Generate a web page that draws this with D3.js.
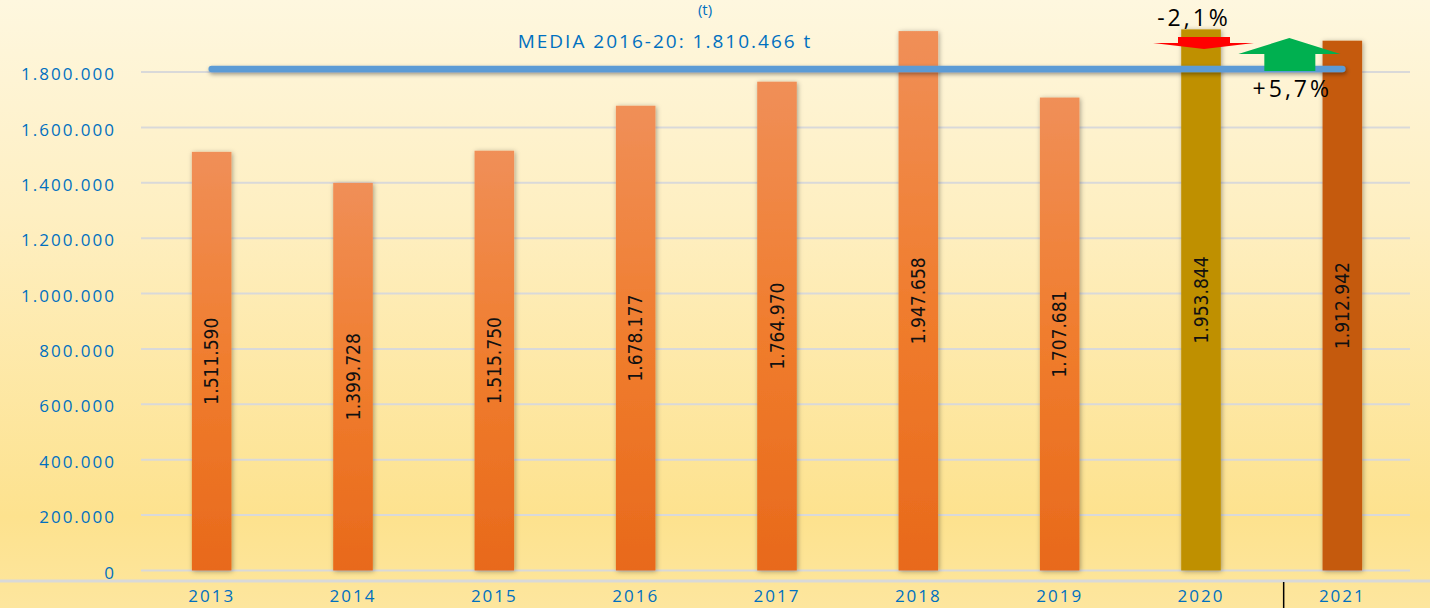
<!DOCTYPE html>
<html>
<head>
<meta charset="utf-8">
<script src="https://cdn.jsdelivr.net/npm/d3@7"></script>
<style>
  html, body { margin: 0; padding: 0; overflow: hidden; }
  svg { display: block; }
</style>
</head>
<body>
<div id="chart"></div>
<script>
const years = ["2013", "2014", "2015", "2016", "2017", "2018", "2019", "2020", "2021"];
const tonnes = [1511590, 1399728, 1515750, 1678177, 1764970, 1947658, 1707681, 1953844, 1912942];
const yTicks = [0, 200000, 400000, 600000, 800000, 1000000, 1200000, 1400000, 1600000, 1800000];
const average = 1810466;
const averageLabel = "MEDIA 2016-20: 1.810.466 t";
const changeLabels = ["-2,1%", "+5,7%"];

const width = 1430, height = 608;
const locale = d3.formatLocale({ decimal: ",", thousands: ".", grouping: [3], currency: ["", ""] });
const fmt = locale.format(",d");

const svg = d3.select("#chart").append("svg")
  .attr("width", width)
  .attr("height", height);

const defs = svg.append("defs");

// background gradient
const bg = defs.append("linearGradient").attr("id", "bg").attr("x1", 0).attr("y1", 0).attr("x2", 0).attr("y2", 1);
bg.append("stop").attr("offset", "0%").attr("stop-color", "#fef7df");
bg.append("stop").attr("offset", "35%").attr("stop-color", "#feefc2");
bg.append("stop").attr("offset", "85%").attr("stop-color", "#fde28e");
bg.append("stop").attr("offset", "100%").attr("stop-color", "#fde69e");

// bar gradient
const barGrad = defs.append("linearGradient").attr("id", "barGrad").attr("x1", 0).attr("y1", 0).attr("x2", 0).attr("y2", 1);
barGrad.append("stop").attr("offset", "0%").attr("stop-color", "#f08f58");
barGrad.append("stop").attr("offset", "50%").attr("stop-color", "#f07d2e");
barGrad.append("stop").attr("offset", "100%").attr("stop-color", "#e8691b");

// soft shadow for bars
const shadow = defs.append("filter").attr("id", "shadow").attr("x", "-30%").attr("y", "-10%").attr("width", "160%").attr("height", "130%");
shadow.append("feDropShadow").attr("dx", 1).attr("dy", 1).attr("stdDeviation", 2.5)
  .attr("flood-color", "#000").attr("flood-opacity", 0.35);

// shadow for the flat average line (needs user space region)
const lineShadow = defs.append("filter").attr("id", "lineShadow").attr("filterUnits", "userSpaceOnUse")
  .attr("x", 0).attr("y", 0).attr("width", width).attr("height", height);
lineShadow.append("feDropShadow").attr("dx", 1).attr("dy", 2).attr("stdDeviation", 2)
  .attr("flood-color", "#000").attr("flood-opacity", 0.4);

svg.append("rect").attr("width", width).attr("height", height).attr("fill", "url(#bg)");

// scales
const x = d3.scaleBand().domain(years).range([141, 1413]).paddingInner(0.72).paddingOuter(0.36);
const y = d3.scaleLinear().domain([0, 2000000]).range([570.5, 16.6]);

// title fragment at the top
svg.append("text")
  .attr("x", 705).attr("y", 15)
  .attr("text-anchor", "middle")
  .attr("font-family", "'Open Sans', sans-serif")
  .attr("font-size", 15)
  .attr("fill", "#0070c0")
  .text("(t)");

// gridlines
svg.append("g")
  .selectAll("line")
  .data(yTicks)
  .join("line")
  .attr("x1", 141).attr("x2", 1410)
  .attr("y1", d => y(d)).attr("y2", d => y(d))
  .attr("stroke", "#d9d9d9")
  .attr("stroke-width", 2);

// y axis labels
const yAxis = d3.axisLeft(y).tickValues(yTicks).tickFormat(fmt).tickSize(0).tickPadding(0);
const yg = svg.append("g").attr("transform", "translate(116,0)").call(yAxis);
yg.select(".domain").remove();
yg.selectAll("text")
  .attr("font-family", "'Open Sans', sans-serif")
  .attr("font-size", 17)
  .attr("letter-spacing", 2)
  .attr("fill", "#0070c0")
  .attr("dy", "0.45em");

// bottom axis line
svg.append("line")
  .attr("x1", 0).attr("x2", width)
  .attr("y1", 581).attr("y2", 581)
  .attr("stroke", "#d9d9d9").attr("stroke-width", 3);

// separator between 2020 and 2021
const sepX = (x("2020") + x.bandwidth() / 2 + x("2021") + x.bandwidth() / 2) / 2 + 12;
svg.append("line")
  .attr("x1", sepX).attr("x2", sepX)
  .attr("y1", 582).attr("y2", height)
  .attr("stroke", "#000").attr("stroke-width", 1.5);

// x axis labels
const xAxis = d3.axisBottom(x).tickSize(0).tickPadding(0);
const xg = svg.append("g").attr("transform", "translate(0,602)").call(xAxis);
xg.select(".domain").remove();
xg.selectAll("text")
  .attr("font-family", "'Open Sans', sans-serif")
  .attr("font-size", 17)
  .attr("letter-spacing", 2)
  .attr("fill", "#0070c0")
  .attr("dy", "0")
  .attr("y", 0);

// bars
const barColor = d => d === "2020" ? "#bf9000" : d === "2021" ? "#c55a11" : "url(#barGrad)";
svg.append("g")
  .selectAll("rect")
  .data(years)
  .join("rect")
  .attr("x", d => x(d))
  .attr("y", (d, i) => y(tonnes[i]))
  .attr("width", x.bandwidth())
  .attr("height", (d, i) => y(0) - y(tonnes[i]))
  .attr("fill", barColor)
  .attr("filter", "url(#shadow)");

// bar value labels
svg.append("g")
  .selectAll("text")
  .data(years)
  .join("text")
  .attr("transform", (d, i) => {
    const cx = x(d) + x.bandwidth() / 2;
    const cy = (y(tonnes[i]) + y(0)) / 2;
    return `translate(${cx},${cy}) rotate(-90)`;
  })
  .attr("text-anchor", "middle")
  .attr("dy", "0.35em")
  .attr("font-family", "'Liberation Sans Narrow', 'DejaVu Sans Condensed', sans-serif")
  .attr("font-size", 19)
  .attr("fill", "#111")
  .text((d, i) => fmt(tonnes[i]));

// average line
const avgY = y(average);
svg.append("line")
  .attr("x1", x("2013") + x.bandwidth() / 2)
  .attr("x2", x("2021") + x.bandwidth() / 2)
  .attr("y1", avgY).attr("y2", avgY)
  .attr("stroke", "#5b9bd5")
  .attr("stroke-width", 6.5)
  .attr("stroke-linecap", "round")
  .attr("filter", "url(#lineShadow)");

svg.append("text")
  .attr("x", 665).attr("y", 48)
  .attr("text-anchor", "middle")
  .attr("font-family", "'Open Sans', sans-serif")
  .attr("font-size", 19)
  .attr("letter-spacing", 2)
  .attr("fill", "#0070c0")
  .text(averageLabel);

// change arrows
const c20 = x("2020") + x.bandwidth() / 2;
const c21 = x("2021") + x.bandwidth() / 2;
const red = d3.path();
red.moveTo(c20 - 23, 37); red.lineTo(c20 + 29, 37); red.lineTo(c20 + 29, 43);
red.lineTo(c20 + 53, 43); red.lineTo(c20 + 3, 49); red.lineTo(c20 - 48, 43);
red.lineTo(c20 - 23, 43); red.closePath();
svg.append("path").attr("d", red.toString()).attr("fill", "#ff0000");

const ax = c21 - 53;
const green = d3.path();
green.moveTo(ax, 38); green.lineTo(ax + 51, 54); green.lineTo(ax + 26, 54);
green.lineTo(ax + 26, 71); green.lineTo(ax - 25, 71); green.lineTo(ax - 25, 54);
green.lineTo(ax - 51, 54); green.closePath();
svg.append("path").attr("d", green.toString()).attr("fill", "#00b050");

svg.append("text")
  .attr("x", c20 - 7).attr("y", 26)
  .attr("text-anchor", "middle")
  .attr("font-family", "'Open Sans', sans-serif")
  .attr("font-size", 23)
  .attr("letter-spacing", 3)
  .attr("fill", "#000")
  .text(changeLabels[0]);

svg.append("text")
  .attr("x", ax + 3).attr("y", 97)
  .attr("text-anchor", "middle")
  .attr("font-family", "'Open Sans', sans-serif")
  .attr("font-size", 23)
  .attr("letter-spacing", 3)
  .attr("fill", "#000")
  .text(changeLabels[1]);
</script>
</body>
</html>
